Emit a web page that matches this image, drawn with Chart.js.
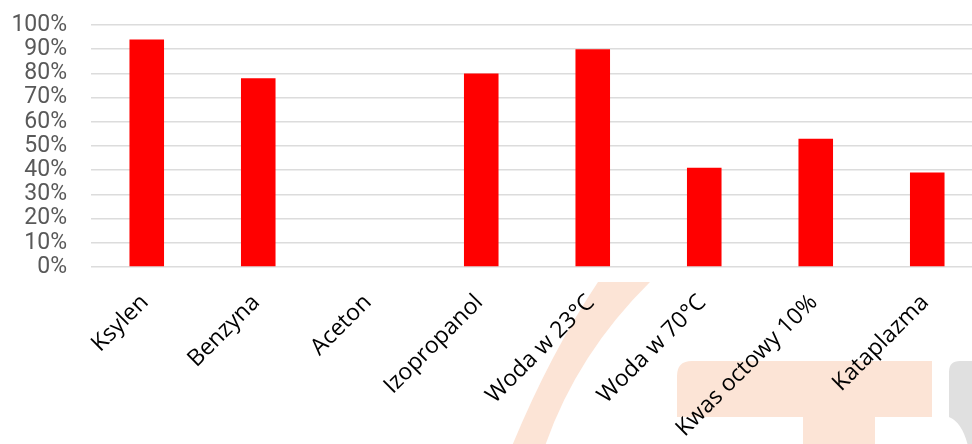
<!DOCTYPE html>
<html><head><meta charset="utf-8">
<script src="https://cdn.jsdelivr.net/npm/chart.js@4.4.1/dist/chart.umd.min.js"></script>
<style>
html,body{margin:0;padding:0;overflow:hidden;background:#fff;width:972px;height:444px}
#wrap{width:990px;height:444px;position:relative}
canvas{display:block}
</style>
</head><body><div id="wrap"><canvas id="c" width="990" height="444" style="width:990px;height:444px"></canvas></div>
<script>
const categories = ['Ksylen','Benzyna','Aceton','Izopropanol','Woda w 23°C','Woda w 70°C','Kwas octowy 10%','Kataplazma'];
const values = [94, 78, 0, 80, 90, 41, 53, 39];
const yTickValues = [0,10,20,30,40,50,60,70,80,90,100];
const yTickLabels = ['0%','10%','20%','30%','40%','50%','60%','70%','80%','90%','100%'];

const watermark = {
  id: 'watermark',
  beforeDraw(chart) {
    const ctx = chart.ctx;
    ctx.save();
    ctx.fillStyle = '#ffffff';
    ctx.fillRect(0, 0, chart.width, chart.height);
    ctx.beginPath();
    ctx.rect(0, 282, chart.width, chart.height - 282);
    ctx.clip();
    ctx.fillStyle = '#fce4d6';
    ctx.beginPath();
    ctx.moveTo(598, 282);
    ctx.quadraticCurveTo(550, 354, 512, 446);
    ctx.lineTo(545, 446);
    ctx.quadraticCurveTo(577, 354, 650, 282);
    ctx.closePath();
    ctx.fill();
    ctx.beginPath();
    ctx.moveTo(677, 417);
    ctx.lineTo(677, 376);
    ctx.quadraticCurveTo(677, 361, 692, 361);
    ctx.lineTo(932, 361);
    ctx.lineTo(932, 417);
    ctx.lineTo(875, 417);
    ctx.lineTo(875, 446);
    ctx.lineTo(803, 446);
    ctx.lineTo(803, 417);
    ctx.closePath();
    ctx.fill();
    ctx.fillStyle = '#e0e0e0';
    ctx.beginPath();
    ctx.moveTo(949, 417);
    ctx.lineTo(949, 372);
    ctx.quadraticCurveTo(949, 361, 960, 361);
    ctx.lineTo(990, 361);
    ctx.lineTo(990, 446);
    ctx.lineTo(968, 446);
    ctx.quadraticCurveTo(962, 422, 949, 417);
    ctx.closePath();
    ctx.fill();
    ctx.restore();
  }
};

new Chart(document.getElementById('c'), {
  type: 'bar',
  data: {
    labels: categories,
    datasets: [{
      data: values,
      backgroundColor: '#ff0000',
      borderWidth: 0,
      barPercentage: 0.31,
      categoryPercentage: 1
    }]
  },
  options: {
    responsive: false,
    animation: false,
    devicePixelRatio: 1,
    layout: { padding: { top: 25, right: 7, left: 0, bottom: 0 } },
    plugins: { legend: { display: false }, tooltip: { enabled: false } },
    scales: {
      x: {
        grid: { display: false, drawTicks: false },
        border: { display: false },
        ticks: {
          color: '#000000',
          font: { family: 'Open Sans', size: 23 },
          maxRotation: 45, minRotation: 45,
          padding: 22,
          labelOffset: -2,
          autoSkip: false
        },
        afterFit(scale) { scale.height = 177; }
      },
      y: {
        min: 0, max: 100,
        afterBuildTicks(scale) { scale.ticks = yTickValues.map(v => ({ value: v })); },
        grid: { color: '#dcdcdc', lineWidth: 1.5, drawTicks: true, tickLength: 24, tickColor: 'rgba(0,0,0,0)' },
        border: { display: false },
        ticks: {
          color: '#595959',
          font: { family: 'Roboto', size: 23, lineHeight: 1 },
          padding: 0,
          autoSkip: false,
          callback: (v, i) => yTickLabels[yTickValues.indexOf(v)]
        },
        afterFit(scale) { scale.width = 91; }
      }
    }
  },
  plugins: [watermark]
});
</script>
</body></html>
